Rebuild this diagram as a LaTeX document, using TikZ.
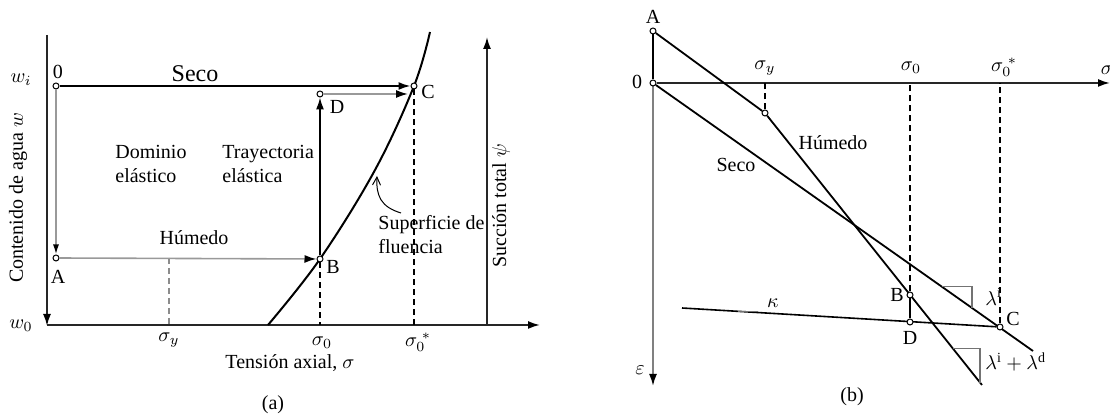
\documentclass[tikz,border=0pt]{standalone}
\usepackage{fontspec}
\setmainfont{Liberation Serif}
\usetikzlibrary{arrows.meta,calc}
\begin{document}
\begin{tikzpicture}[x=0.5pt,y=-0.5pt,
  pt/.style={circle,draw=black,fill=white,inner sep=0pt,minimum size=3pt,line width=0.5pt},
  axis/.style={line width=0.9pt,black!85},
  blk/.style={line width=0.9pt,black},
  gline/.style={line width=0.8pt,black!40},
  arr/.style={-{Latex[length=6pt,width=4pt,black]}},
  sarr/.style={-{Latex[length=5pt,width=3pt,black]}},
  dashline/.style={dash pattern=on 3pt off 2pt,line width=0.6pt},
  lbl/.style={inner sep=1pt,font=\fontsize{10}{12}\selectfont},
  tri/.style={line width=0.6pt,black!55}]
\useasboundingbox (0,0) rectangle (1110,415);
% ---------------- panel (a) ----------------
\coordinate (ayTop) at (47,35);
\coordinate (ayBot) at (47,326);
\coordinate (axL) at (47,325);
\coordinate (axR) at (540,325);
\draw[axis,arr] (ayTop) -- (ayBot);
\draw[axis,arr] (axL) -- (axR);
\coordinate (psBot) at (487,325);
\coordinate (psTop) at (487,37);
\draw[axis,arr] (psBot) -- (psTop);
% yield curve
\node[pt,draw=none,fill=none] (pB) at (320,259) {};
\node[pt,draw=none,fill=none] (pC) at (414,86) {};
\coordinate (yc0) at (268,325);
\coordinate (yc2) at (375,170);
\coordinate (yc4) at (430,32);
\draw[line width=1pt] plot[smooth,tension=0.6] coordinates {(yc0) (pB) (yc2) (pC) (yc4)};
% dashed lines
\coordinate (sy1) at (169,258);
\coordinate (sy2) at (169,325);
\draw[dashline,black!45] (sy1) -- (sy2);
\draw[dashline] (pB) -- (pB |- axL);
\draw[dashline] (pC) -- (pC |- axL);
% paths
\node[pt] (p0) at (56,86) {};
\node[pt] (pA) at (56,258) {};
\node[pt] (pD) at (320,94) {};
\coordinate (dEnd) at (408,94);
\draw[blk,arr] (p0) -- (pC.west);
\draw[gline,sarr] (p0) -- (pA.north);
\draw[gline,arr] (pA) -- (pB.west);
\draw[line width=0.8pt,arr] (pB) -- (pD.south);
\draw[gline,arr] (pD) -- (dEnd);
\node[pt] (pBc) at (pB) {};
\node[pt] (pCc) at (pC) {};
% annotation arrow
\coordinate (annS) at (401,213);
\coordinate (annE) at (377,176);
\draw[line width=0.5pt,-{Straight Barb[length=4pt,width=4pt]}] (annS) .. controls (381,207) and (376,196) .. (annE);
% labels (a)
\node[lbl] (l0) at (58,72) {0};
\node[lbl,font=\fontsize{12}{14}\selectfont] (lSeco) at (195,74) {Seco};
\node[lbl] (lC) at (428,92) {C};
\node[lbl] (lD) at (337,107) {D};
\node[lbl] (lB) at (333,267) {B};
\node[lbl] (lA) at (58,277) {A};
\node[lbl] (lHum) at (194,238) {Húmedo};
\node[lbl,align=left,anchor=west] (lDom) at (113,164) {Dominio\\elástico};
\node[lbl,align=left,anchor=west] (lTray) at (220,164) {Trayectoria\\elástica};
\node[lbl,align=left,anchor=west] (lSup) at (376,235) {Superficie de\\fluencia};
\node[lbl] (lsy) at (169,340) {$\sigma_y$};
\node[lbl] (ls0) at (322,343) {$\sigma_0$};
\node[lbl] (ls0s) at (418,342) {$\sigma_0^{\;*}$};
\node[lbl] (lTen) at (290,363) {Tensión axial, $\sigma$};
\node[lbl] (la) at (273,405) {(a)};
\node[lbl,rotate=90] (lSuc) at (501,206) {Succión total $\psi$};
\node[lbl,rotate=90] (lCont) at (18,198) {Contenido de agua $w$};
\node[lbl] (lwi) at (21,80) {$w_i$};
\node[lbl] (lw0) at (21,326) {$w_0$};
% ---------------- panel (b) ----------------
\node[pt,draw=none,fill=none] (bO) at (653,83) {};
\node[pt,draw=none,fill=none] (bA) at (653,31) {};
\coordinate (bEps) at (653,386);
\coordinate (bSig) at (1110,83);
\coordinate (bHend) at (982,385);
\coordinate (bSend) at (1033,351);
\coordinate (bK) at (682,308);
\node[pt,draw=none,fill=none] (bY) at (765,113) {};
\node[pt,draw=none,fill=none] (bB) at (910,295) {};
\node[pt,draw=none,fill=none] (bD) at (910,322) {};
\node[pt,draw=none,fill=none] (bC) at (1000,327) {};
\draw[line width=0.9pt,black!50,arr] (bO) -- (bEps);
\draw[blk] (bA) -- (bO);
\draw[axis,arr] (bO) -- (bSig);
\draw[dashline] (bY) -- (bY |- bO);
\draw[dashline] (bB) -- (bB |- bO);
\draw[dashline] (bC) -- (bC |- bO);
\draw[blk] (bA) -- (bY) -- (bHend);
\draw[blk] (bO) -- (bSend);
\draw[line width=0.8pt] (bK) -- (bC);
\draw[blk] (bB) -- (bD);
% slope triangles
\coordinate (k1) at ($(bK)!0.176!(bC)$);
\coordinate (k2) at ($(bK)!0.236!(bC)$);
\draw[tri,line width=0.4pt] (k1) -- (k2 |- k1) -- (k2);
\coordinate (s1) at ($(bO)!0.7605!(bSend)$);
\coordinate (s2) at ($(bO)!0.8395!(bSend)$);
\draw[tri] (s1) -- (s2 |- s1) -- (s2);
\coordinate (h1) at ($(bY)!0.866!(bHend)$);
\coordinate (h2) at ($(bY)!0.991!(bHend)$);
\draw[tri] (h1) -- (h2 |- h1) -- (h2);
% points
\node[pt] (bOc) at (bO) {};
\node[pt] (bAc) at (bA) {};
\node[pt] (bYc) at (bY) {};
\node[pt] (bBc) at (bB) {};
\node[pt] (bDc) at (bD) {};
\node[pt] (bCc) at (bC) {};
% labels (b)
\node[lbl] (mA) at (653,17) {A};
\node[lbl] (m0) at (637,82) {0};
\node[lbl] (msy) at (765,68) {$\sigma_y$};
\node[lbl] (ms0) at (911,68) {$\sigma_0$};
\node[lbl] (ms0s) at (1004,67) {$\sigma_0^{\;*}$};
\node[lbl] (msig) at (1107,70) {$\sigma$};
\node[lbl] (mHum) at (833,143) {Húmedo};
\node[lbl] (mSeco) at (736,165) {Seco};
\node[lbl] (mB) at (897,295) {B};
\node[lbl] (mD) at (910,338) {D};
\node[lbl] (mC) at (1013,319) {C};
\node[lbl] (meps) at (640,370) {$\varepsilon$};
\node[lbl] (mk) at (773,303) {$\kappa$};
\node[lbl,anchor=west] (mli) at (983,297) {$\lambda^{\mathrm{i}}$};
\node[lbl,anchor=west] (mlid) at (983,362) {$\lambda^{\mathrm{i}}+\lambda^{\mathrm{d}}$};
\node[lbl] (mb) at (852,397) {(b)};
\end{tikzpicture}
\end{document}
